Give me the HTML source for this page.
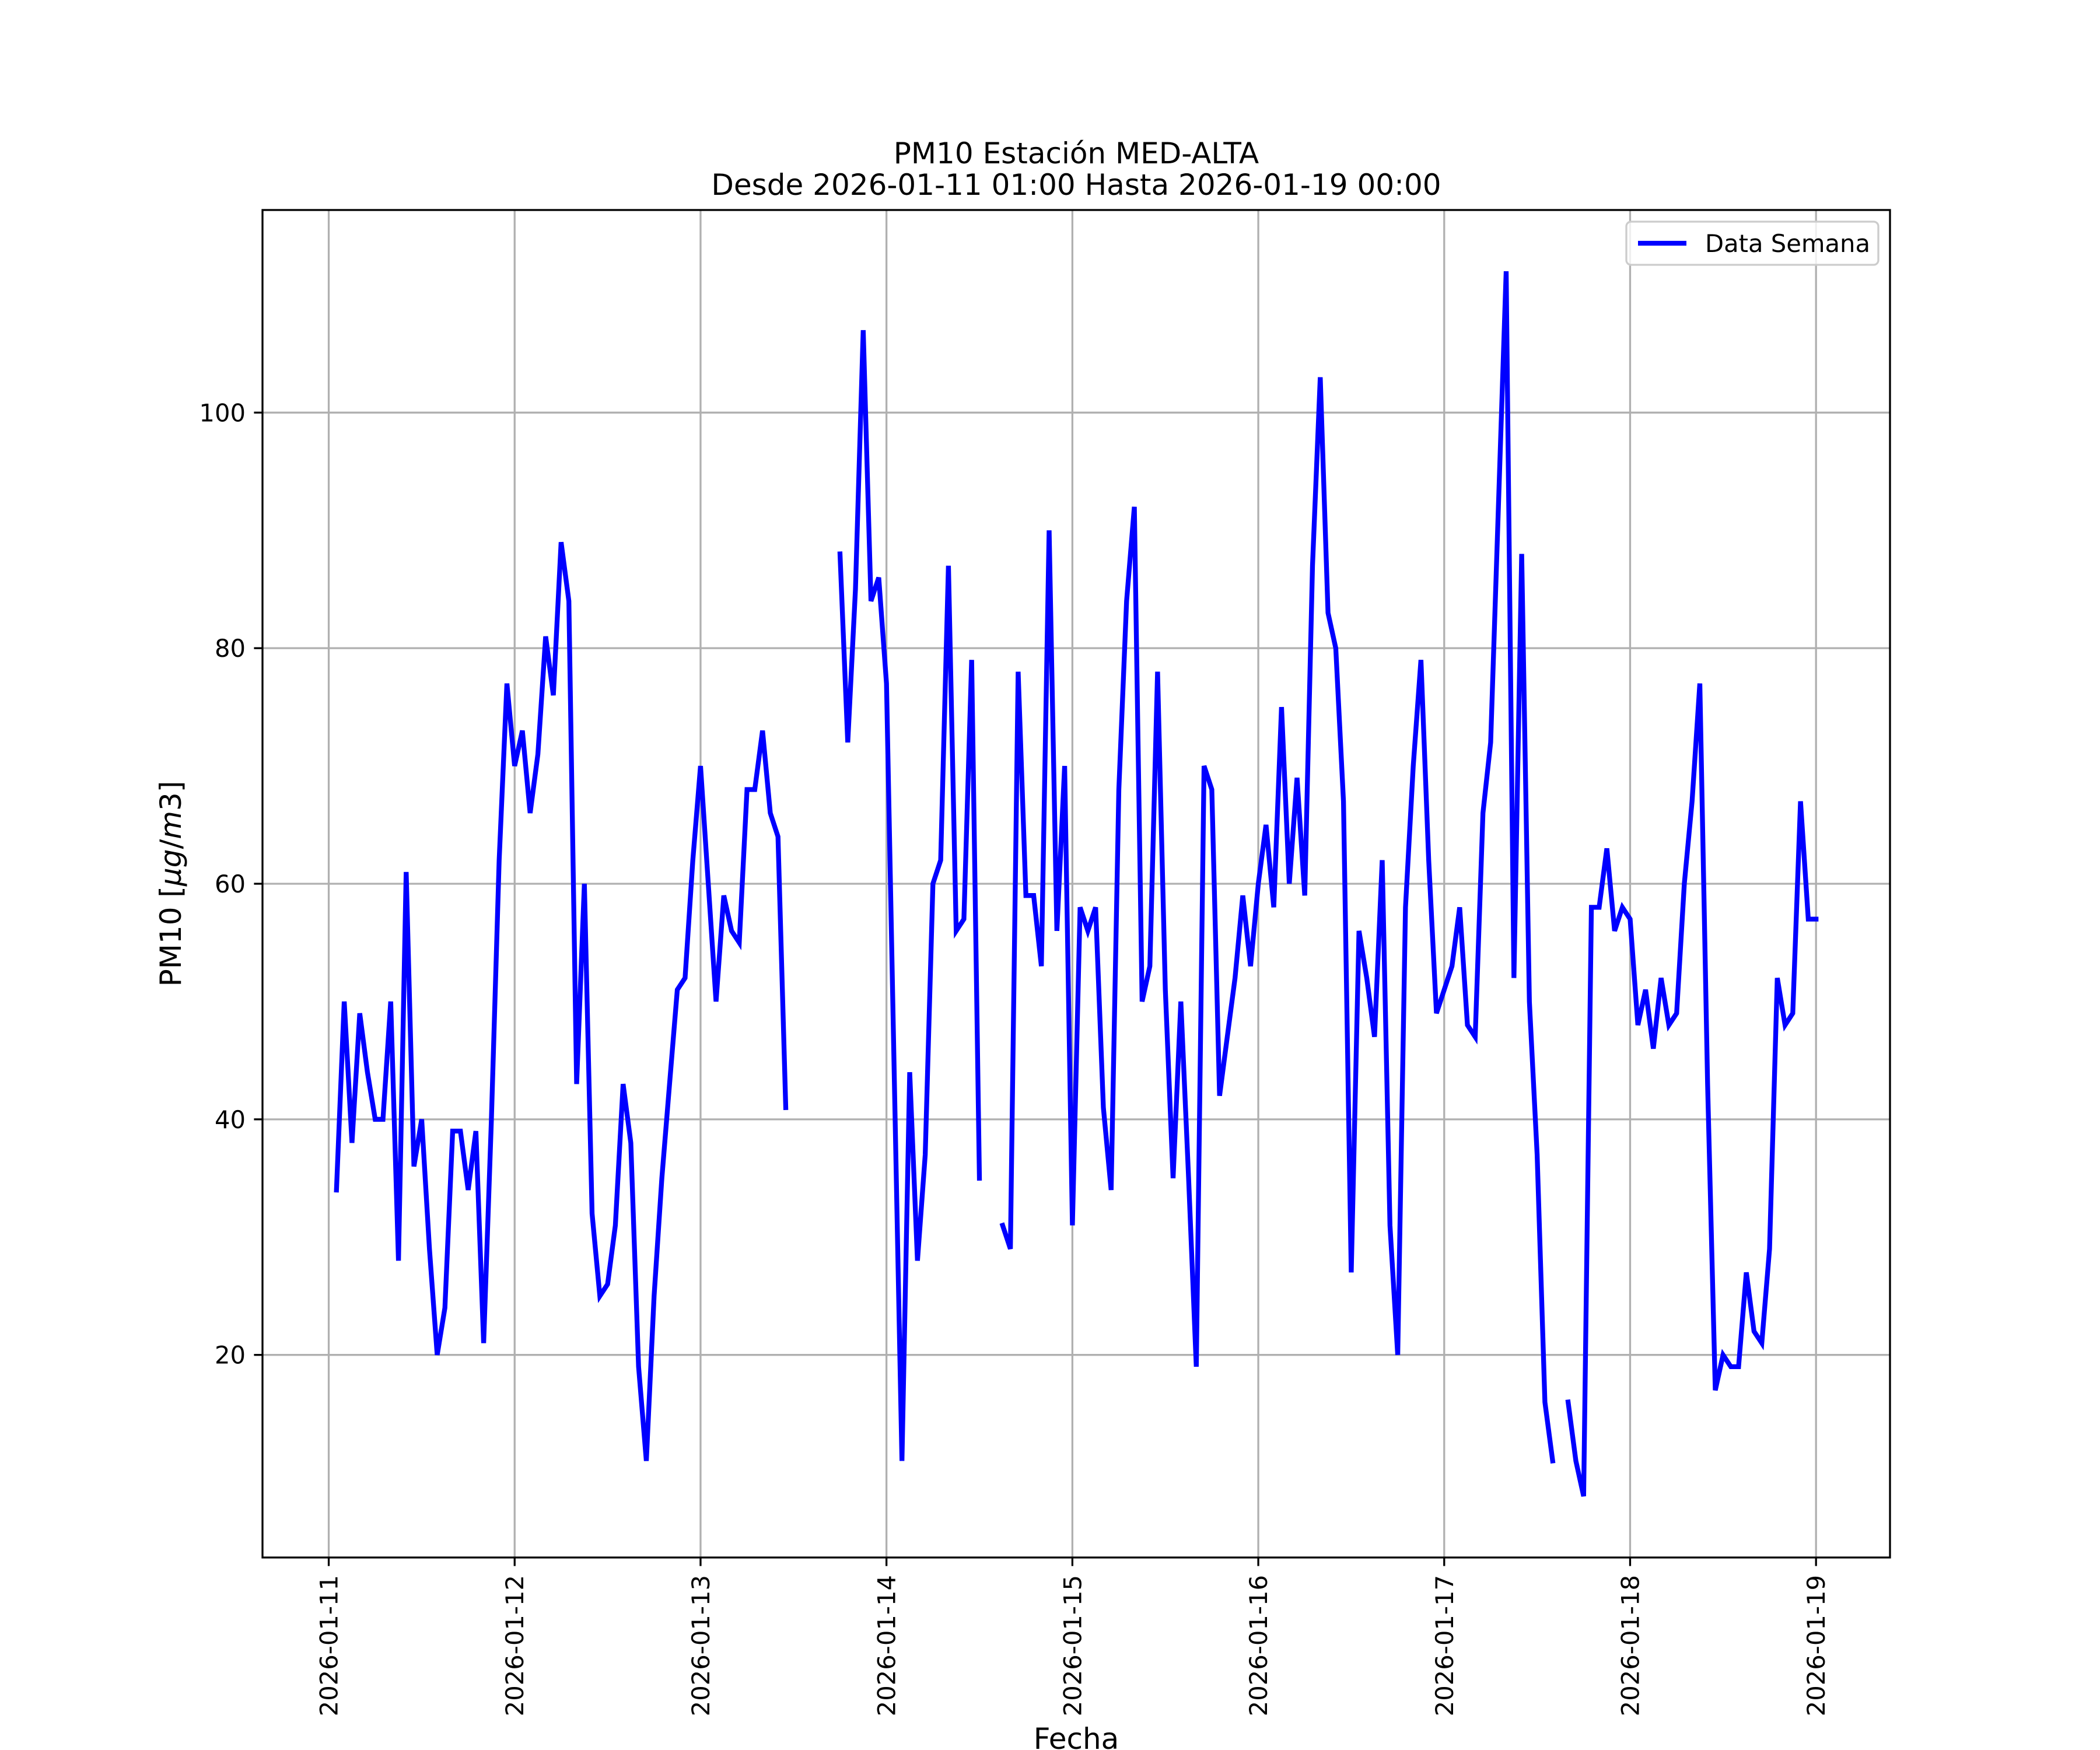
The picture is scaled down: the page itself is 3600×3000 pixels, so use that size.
<!DOCTYPE html>
<html><head><meta charset="utf-8"><style>
html,body{margin:0;padding:0;background:#fff}
svg{display:block;font-family:"DejaVu Sans","Liberation Sans",sans-serif}
</style></head><body>
<svg id="chart" width="3600" height="3000" viewBox="0 0 3600 3000" xmlns="http://www.w3.org/2000/svg">
<rect x="0" y="0" width="3600" height="3000" fill="#fff"/>
<text x="1845" y="280" font-size="50" text-anchor="middle">PM10 Estación MED-ALTA</text>
<text x="1845" y="334" font-size="50" text-anchor="middle">Desde 2026-01-11 01:00 Hasta 2026-01-19 00:00</text>
<g id="grid"></g>
<g id="series"></g>
<rect x="450" y="360" width="2790" height="2310" fill="none" stroke="#000" stroke-width="3.3"/>
<g id="ticks"></g>
<text x="1845" y="2998" font-size="50" text-anchor="middle">Fecha</text>
<text transform="translate(310,1515) rotate(-90)" font-size="50" text-anchor="middle">PM10 [<tspan font-style="italic">μg</tspan>/<tspan font-style="italic">m</tspan>3]</text>
<g>
<rect x="2788" y="380" width="432" height="74" rx="8" fill="#fff" fill-opacity="0.8" stroke="#ccc" stroke-width="3.3"/>
<line x1="2808" y1="417" x2="2891" y2="417" stroke="#0000ff" stroke-width="8.3"/>
<text x="2923" y="432" font-size="41.7">Data Semana</text>
</g>
</svg>
<script>
const seg1 = [34,50,38,49,44,40,40,50,28,61,36,40,29,20,24,39,39,34,39,21,40,62,77,70,73,66,71,81,76,89,84,43,60,32,25,26,31,43,38,19,11,25,35,43,51,52,62,70,60,50,59,56,55,68,68,73,66,64,41];
const seg2 = [88,72,85,107,84,86,77,44,11,44,28,37,60,62,87,56,57,79,35];
const seg3 = [31,29,78,59,59,53,90,56,70,31,58,56,58,41,34,68,84,92,50,53,78,51,35,50,35,19,70,68,42,47,52,59,53,60,65,58,75,60,69,59,87,103,83,80,67,27,56,52,47,62,31,20,58,70,79,62,49,51,53,58,48,47,66,72,92,112,52,88,50,37,16,11];
const seg4 = [16,11,8,58,58,63,56,58,57,48,51,46,52,48,49,60,67,77,43,17,20,19,19,27,22,21,29,52,48,49,67,57,57];
const segStartHours = [1,66,87,160];
const xTickLabels = ["2026-01-11","2026-01-12","2026-01-13","2026-01-14","2026-01-15","2026-01-16","2026-01-17","2026-01-18","2026-01-19"];
const yTickValues = [20,40,60,80,100];

const NS="http://www.w3.org/2000/svg";
const L=450,R=3240,T=360,B=2670;
const segs=[seg1,seg2,seg3,seg4];
const allVals=[].concat(...segs);
const firstH=segStartHours[0];
const lastH=segStartHours[3]+seg4.length-1;
const x0=firstH/24, x1=lastH/24, xm=(x1-x0)*0.05;
const ymin=Math.min(...allVals), ymax=Math.max(...allVals), ymg=(ymax-ymin)*0.05;
const X=d=>L+(d-(x0-xm))/((x1+xm)-(x0-xm))*(R-L);
const Y=v=>B-(v-(ymin-ymg))/((ymax+ymg)-(ymin-ymg))*(B-T);
const grid=document.getElementById('grid'), ticks=document.getElementById('ticks'), series=document.getElementById('series');
function mk(tag,attrs,parent){const e=document.createElementNS(NS,tag);for(const k in attrs)e.setAttribute(k,attrs[k]);parent.appendChild(e);return e;}
xTickLabels.forEach((lab,i)=>{
  const x=X(i);
  const g=mk('line',{x1:x,y1:T,x2:x,y2:B,stroke:'#b0b0b0','stroke-width':3.3},grid);
  
  
  const t=mk('line',{x1:x,y1:B,x2:x,y2:B+14.6,stroke:'#000','stroke-width':3.3},ticks);
  
  
  const tx=mk('text',{transform:`translate(${x+15},${B+30}) rotate(-90)`,'font-size':41.7,'text-anchor':'end'},ticks);
  tx.textContent=lab;
  
  
});
yTickValues.forEach(v=>{
  const y=Y(v);
  const g=mk('line',{x1:L,y1:y,x2:R,y2:y,stroke:'#b0b0b0','stroke-width':3.3},grid);
  
  
  const t=mk('line',{x1:L-14.6,y1:y,x2:L,y2:y,stroke:'#000','stroke-width':3.3},ticks);
  
  
  const tx=mk('text',{x:L-29,y:y+15,'font-size':41.7,'text-anchor':'end'},ticks);
  tx.textContent=String(v);
  
  
});
segs.forEach((s,k)=>{
  const pts=s.map((v,i)=>X((segStartHours[k]+i)/24).toFixed(1)+','+Y(v).toFixed(1)).join(' ');
  const p=mk('polyline',{points:pts,fill:'none',stroke:'#0000ff','stroke-width':8.3,'stroke-linejoin':'miter','stroke-linecap':'square'},series);
  
  
});
</script>
</body></html>
